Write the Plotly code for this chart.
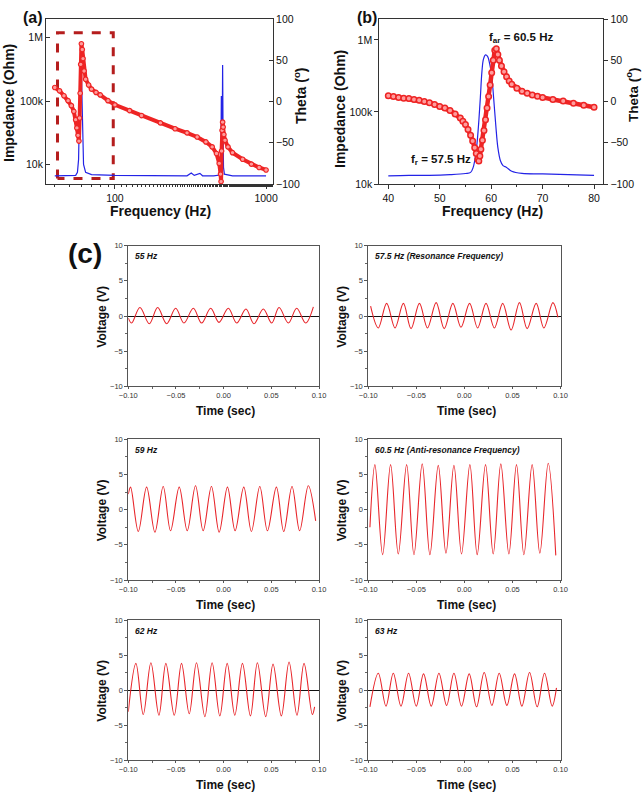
import plotly.graph_objects as go

FONT = "Arial, 'Liberation Sans', sans-serif"
W, H = 642, 803

# ---------------- Panel (a): wide sweep ----------------
IMP_A_FREQ = [40, 50, 55, 56.5, 57.5, 58.2, 58.8, 59.3, 59.8, 60.4, 61, 62, 64, 70, 100, 200,
              300, 320, 335, 365, 380, 450, 495, 502, 506, 509, 513, 516, 519, 523, 530, 600, 800, 1000]
IMP_A_OHM = [6.6e3, 6.6e3, 6.7e3, 7.5e3, 12e3, 60e3, 250e3, 530e3, 400e3, 120e3, 25e3, 10e3, 7.5e3,
             6.9e3, 6.7e3, 6.6e3, 6.6e3, 7.3e3, 6.7e3, 7.2e3, 6.6e3, 6.6e3, 6.8e3, 9e3, 120e3, 25e3,
             30e3, 370e3, 40e3, 9e3, 7e3, 6.6e3, 6.6e3, 6.6e3]
THETA_A_FREQ = [40, 43, 46, 49, 51.5, 53.5, 55, 56, 57, 57.8, 58.4, 58.9, 59.4, 60, 60.8, 61.5, 62.5,
                64, 67, 70, 75, 80, 90, 100, 125, 150, 200, 250, 300, 350, 400, 440, 470, 490, 500,
                504, 508, 512, 516, 520, 526, 535, 560, 600, 700, 800, 900, 1000]
THETA_A_DEG = [17, 13, 7, 1, -5, -12, -22, -32, -41, -48, -20, 10, 45, 70, 63, 52, 37,
               27, 20, 15, 11, 8, 1, -4, -11, -17, -26, -33, -38, -43, -49, -55, -63, -75, -88,
               -97, -60, -35, -25, -31, -40, -47, -55, -62, -70, -76, -80, -83]
BOX_A_FREQ = [41.7, 97.5]
BOX_A_OHM = [6.0e3, 1.2e6]

# ---------------- Panel (b): zoom around resonance ----------------
IMP_B_FREQ = [40, 44, 48, 52, 55, 56, 56.5, 57.0, 57.3, 57.6, 57.9, 58.2, 58.5, 58.9, 59.3, 59.7,
              60.1, 60.5, 60.9, 61.3, 61.8, 62.3, 63.0, 64, 66, 70, 75, 80]
IMP_B_OHM = [13.0e3, 13.2e3, 13.2e3, 13.5e3, 14e3, 14.5e3, 17e3, 26e3, 40e3, 75e3, 160e3, 360e3,
             540e3, 620e3, 590e3, 470e3, 320e3, 150e3, 65e3, 32e3, 21e3, 18e3, 17e3, 15e3, 14e3,
             13.8e3, 13.5e3, 13.2e3]
THETA_B_FREQ = [40, 41, 42, 43, 44, 45, 46, 47, 48, 49, 50, 51, 52, 53, 54, 54.5, 55, 55.5, 56,
                56.4, 56.8, 57.1, 57.4, 57.6, 57.8, 58.0, 58.3, 58.6, 58.9, 59.2, 59.5, 59.8, 60.1,
                60.4, 60.7, 61.0, 61.3, 61.6, 62.0, 62.5, 63.0, 63.5, 64, 65, 66, 67, 68, 69, 70,
                72, 74, 76, 78, 80]
THETA_B_DEG = [7, 6, 5, 4, 3.5, 2.5, 1.5, 0, -1.5, -3.5, -6, -8, -11, -15, -20, -24, -28, -34, -41,
               -48, -56, -63, -70, -72, -66, -58, -47, -35, -22, -8, 6, 20, 35,
               50, 62, 64, 57, 50, 43, 36, 30, 25, 21, 16, 12.5, 10, 8, 6.5, 5,
               2.5, 0.5, -2, -4.5, -7]
A_TICKS_Z = [1e4, 1e5, 1e6]
A_TICKTEXT_Z = ["10k", "100k", "1M"]
THETA_TICKS = [-100, -50, 0, 50, 100]

# ---------------- Panel (c): voltage waveforms (extrema) ----------------
T_55 = [-0.1000, -0.0965, -0.0878, -0.0780, -0.0692, -0.0598, -0.0503, -0.0416, -0.0318, -0.0231,
        -0.0136, -0.0049, 0.0049, 0.0137, 0.0234, 0.0318, 0.0416, 0.0504, 0.0581, 0.0679, 0.0766,
        0.0860, 0.0941]
V_55 = [-0.3, -1.0, 1.2, -1.1, 1.2, -1.1, 1.1, -1.0, 1.1, -1.0, 1.1, -0.9, 1.1, -1.0, 1.0, -1.1,
        1.0, -1.0, 1.2, -1.0, 1.1, -1.0, 1.3]
T_575 = [-0.0976, -0.0896, -0.0809, -0.0722, -0.0635, -0.0555, -0.0468, -0.0384, -0.0294, -0.0210,
         -0.0120, -0.0036, 0.0054, 0.0138, 0.0225, 0.0312, 0.0399, 0.0486, 0.0573, 0.0653, 0.0747,
         0.0827, 0.0921, 0.0973]
V_575 = [1.4, -1.7, 1.8, -1.7, 1.8, -1.8, 1.8, -1.7, 1.9, -1.8, 1.8, -1.6, 1.8, -1.7, 1.8, -1.7,
         1.8, -2.0, 1.9, -1.8, 1.8, -1.7, 1.9, -0.2]
T_59 = [-0.1000, -0.0976, -0.0895, -0.0808, -0.0721, -0.0634, -0.0557, -0.0466, -0.0382, -0.0295,
        -0.0215, -0.0128, -0.0047, 0.0040, 0.0120, 0.0211, 0.0291, 0.0379, 0.0459, 0.0553, 0.0630,
        0.0717, 0.0797, 0.0888, 0.0965]
V_59 = [2.2, 3.2, -3.1, 3.2, -3.2, 3.3, -3.0, 3.2, -3.0, 3.4, -3.0, 3.3, -3.2, 3.2, -3.0, 3.2,
        -3.1, 3.3, -3.0, 3.2, -3.1, 3.3, -3.0, 3.4, -1.6]
T_605 = [-0.0983, -0.0931, -0.0851, -0.0768, -0.0688, -0.0601, -0.0525, -0.0439, -0.0359, -0.0272,
         -0.0192, -0.0109, -0.0030, 0.0057, 0.0133, 0.0220, 0.0300, 0.0379, 0.0463, 0.0542, 0.0619,
         0.0705, 0.0785, 0.0872, 0.0951]
V_605 = [-2.5, 6.4, -6.4, 6.4, -6.3, 6.4, -6.4, 6.5, -6.4, 6.3, -6.2, 6.3, -6.3, 6.4, -6.4, 6.4,
         -6.3, 6.5, -6.3, 6.4, -6.4, 6.4, -6.2, 6.6, -6.5]
T_62 = [-0.1000, -0.0920, -0.0843, -0.0763, -0.0679, -0.0606, -0.0518, -0.0442, -0.0361, -0.0285,
        -0.0197, -0.0121, -0.0040, 0.0037, 0.0117, 0.0197, 0.0281, 0.0354, 0.0441, 0.0518, 0.0605,
        0.0686, 0.0769, 0.0843, 0.0930, 0.0954]
V_62 = [-3.1, 3.8, -3.5, 3.9, -3.6, 3.8, -3.6, 3.8, -3.4, 3.9, -3.8, 3.9, -3.7, 3.8, -3.6, 3.8,
        -3.7, 3.9, -3.8, 3.7, -3.7, 4.0, -3.6, 3.8, -3.5, -2.4]
T_63 = [-0.0983, -0.0896, -0.0816, -0.0740, -0.0660, -0.0581, -0.0501, -0.0425, -0.0345, -0.0265,
        -0.0185, -0.0109, -0.0030, 0.0050, 0.0126, 0.0206, 0.0286, 0.0362, 0.0442, 0.0522, 0.0598,
        0.0678, 0.0757, 0.0834, 0.0913, 0.0958]
V_63 = [-2.4, 2.4, -2.3, 2.4, -2.3, 2.4, -2.3, 2.3, -2.3, 2.4, -2.2, 2.4, -2.3, 2.3, -2.4, 2.5,
        -2.2, 2.4, -2.2, 2.3, -2.3, 2.5, -2.4, 2.4, -2.3, 0.3]
C_LABELS = ["55 Hz", "57.5 Hz (Resonance Frequency)", "59 Hz",
            "60.5 Hz (Anti-resonance Frequency)", "62 Hz", "63 Hz"]
C_XTICKS = [-0.10, -0.05, 0.00, 0.05, 0.10]
C_YTICKS = [-10, -5, 0, 5, 10]


def px(x):
    return x / W


def py(y):
    return 1 - y / H


BLUE = "#2323e6"
RED = "#ee2424"
PINK = "#ff9c9c"
AXC = "#333333"

fig = go.Figure()

# ---- (a)
fig.add_trace(go.Scatter(x=BOX_A_FREQ[:1] * 2 + BOX_A_FREQ[1:] * 2 + BOX_A_FREQ[:1],
                         y=[BOX_A_OHM[0], BOX_A_OHM[1], BOX_A_OHM[1], BOX_A_OHM[0], BOX_A_OHM[0]],
                         xaxis="x", yaxis="y", mode="lines",
                         line=dict(color="#b51d1d", width=3, dash="dash")))
fig.add_trace(go.Scatter(x=IMP_A_FREQ, y=IMP_A_OHM, xaxis="x", yaxis="y", mode="lines",
                         line=dict(color=BLUE, width=1.2)))
fig.add_trace(go.Scatter(x=THETA_A_FREQ, y=THETA_A_DEG, xaxis="x", yaxis="y2", mode="lines+markers",
                         line=dict(color=RED, width=4),
                         marker=dict(symbol="circle", size=4.5, color=PINK, line=dict(color=RED, width=1.2))))
# ---- (b)
fig.add_trace(go.Scatter(x=IMP_B_FREQ, y=IMP_B_OHM, xaxis="x2", yaxis="y3", mode="lines",
                         line=dict(color=BLUE, width=1.2, shape="spline")))
fig.add_trace(go.Scatter(x=THETA_B_FREQ, y=THETA_B_DEG, xaxis="x2", yaxis="y4", mode="lines+markers",
                         line=dict(color=RED, width=4.5),
                         marker=dict(symbol="circle", size=5.5, color=PINK, line=dict(color=RED, width=1.5))))

tickf = dict(family=FONT, size=10.5, color="#111")
common = dict(showgrid=False, zeroline=False, showline=True, linecolor=AXC, linewidth=1,
              tickfont=tickf, tickcolor=AXC, automargin=False)

A_X = [px(46), px(273)]
A_Y = [py(184), py(19)]
B_X = [px(379.3), px(603.3)]

layout = dict(
    width=W, height=H, autosize=False, margin=dict(l=0, r=0, t=0, b=0, pad=0),
    paper_bgcolor="white", plot_bgcolor="white", showlegend=False,
    xaxis=dict(domain=A_X, anchor="y", type="log", range=[1.544, 3.046], tickvals=[100, 1000],
               ticktext=["100", "1000"], ticks="outside", ticklen=4, mirror=True,
               minor=dict(ticks="outside", ticklen=2, tickcolor=AXC), **common),
    yaxis=dict(domain=A_Y, anchor="x", type="log", range=[3.69, 6.295], tickvals=A_TICKS_Z,
               ticktext=A_TICKTEXT_Z, ticks="inside", ticklen=4, **common),
    yaxis2=dict(overlaying="y", anchor="x", side="right", range=[-100, 100], tickvals=THETA_TICKS,
                ticks="inside", ticklen=4, **common),
    xaxis2=dict(domain=B_X, anchor="y3", range=[38.25, 81.8], tickvals=[40, 50, 60, 70, 80],
                ticks="outside", ticklen=4, mirror=True,
                minor=dict(ticks="outside", ticklen=2, dtick=5, tickcolor=AXC), **common),
    yaxis3=dict(domain=A_Y, anchor="x2", type="log", range=[4.0, 6.29], tickvals=A_TICKS_Z,
                ticktext=A_TICKTEXT_Z, ticks="outside", ticklen=4, **common),
    yaxis4=dict(overlaying="y3", anchor="x2", side="right", range=[-100, 100], tickvals=THETA_TICKS,
                ticks="outside", ticklen=4, **common),
)

# ---- (c)
C_COLS = [(128.3, 319.0), (368.3, 560.5)]
C_ROWS = [(245.7, 386.3), (439.3, 580.0), (620.0, 760.0)]
C_DATA = [(T_55, V_55), (T_575, V_575), (T_59, V_59), (T_605, V_605), (T_62, V_62), (T_63, V_63)]
ZERO_LINE = [True, True, False, False, True, True]
ctick = dict(family=FONT, size=7.5, color="#333")
annotations = []
for i, (tt, vv) in enumerate(C_DATA):
    r, c = divmod(i, 2)
    xn, yn = i + 3, i + 5
    x0, x1 = C_COLS[c]
    y0, y1 = C_ROWS[r]
    fig.add_trace(go.Scatter(x=tt, y=vv, xaxis=f"x{xn}", yaxis=f"y{yn}", mode="lines",
                             line=dict(color="#e8262b", width=1.1, shape="spline", smoothing=1.0)))
    layout[f"xaxis{xn}"] = dict(domain=[px(x0), px(x1)], anchor=f"y{yn}", range=[-0.1, 0.1],
                                tickvals=C_XTICKS, tickformat=".2f", ticks="outside", ticklen=2,
                                showgrid=False, zeroline=False, showline=True, linecolor="#555",
                                mirror=True, tickfont=ctick, tickcolor="#555", automargin=False,
                                minor=dict(ticks="outside", ticklen=2, dtick=0.025, tickcolor="#666"))
    layout[f"yaxis{yn}"] = dict(domain=[py(y1), py(y0)], anchor=f"x{xn}", range=[-10, 10],
                                tickvals=C_YTICKS, ticks="outside", ticklen=3, showgrid=False,
                                zeroline=ZERO_LINE[i], zerolinecolor="#111", zerolinewidth=1,
                                showline=True, linecolor="#555", mirror=True, tickfont=ctick,
                                tickcolor="#555", automargin=False,
                                minor=dict(ticks="outside", ticklen=2, dtick=2.5, tickcolor="#666"))
    annotations.append(dict(text=C_LABELS[i], x=px(x0 + 4.5), y=py(y0 + 10.5), xanchor="left",
                            font=dict(family=FONT, size=8.5, color="#111", style="italic",
                                      weight="bold")))
    annotations.append(dict(text="<b>Time (sec)</b>", x=px((x0 + x1) / 2 + 2), y=py(y1 + 25),
                            font=dict(family=FONT, size=12, color="#111")))
    annotations.append(dict(text="<b>Voltage (V)</b>", x=px(x0 - 26.6), y=py((y0 + y1) / 2 + 1),
                            textangle=-90, font=dict(family=FONT, size=12, color="#111")))

big = dict(family=FONT, color="#111")
annotations += [
    dict(text="<b>(a)</b>", x=px(33), y=py(18), font=dict(size=16, **big)),
    dict(text="<b>(b)</b>", x=px(367), y=py(18), font=dict(size=16, **big)),
    dict(text="<b>(c)</b>", x=px(85), y=py(254), font=dict(size=28, **big)),
    dict(text="<b>Impedance (Ohm)</b>", x=px(9), y=py(103), textangle=-90, font=dict(size=14, **big)),
    dict(text="<b>Theta (<sup>o</sup>)</b>", x=px(300), y=py(96), textangle=-90, font=dict(size=14, **big)),
    dict(text="<b>Frequency (Hz)</b>", x=px(160), y=py(211), font=dict(size=14, **big)),
    dict(text="<b>Impedance (Ohm)</b>", x=px(340), y=py(109), textangle=-90, font=dict(size=14, **big)),
    dict(text="<b>Theta (<sup>o</sup>)</b>", x=px(632), y=py(95), textangle=-90, font=dict(size=13.5, **big)),
    dict(text="<b>Frequency (Hz)</b>", x=px(492), y=py(211), font=dict(size=14, **big)),
    dict(text="<b>f<sub>r</sub> = 57.5 Hz</b>", x=px(441), y=py(160), font=dict(size=11.5, **big)),
    dict(text="<b>f<sub>ar</sub> = 60.5 Hz</b>", x=px(521), y=py(38), font=dict(size=11.5, **big)),
]
for a in annotations:
    a.setdefault("xanchor", "center")
    a.update(xref="paper", yref="paper", showarrow=False, yanchor="middle")
layout["annotations"] = annotations
fig.update_layout(**layout)
fig.write_html("out.html")
